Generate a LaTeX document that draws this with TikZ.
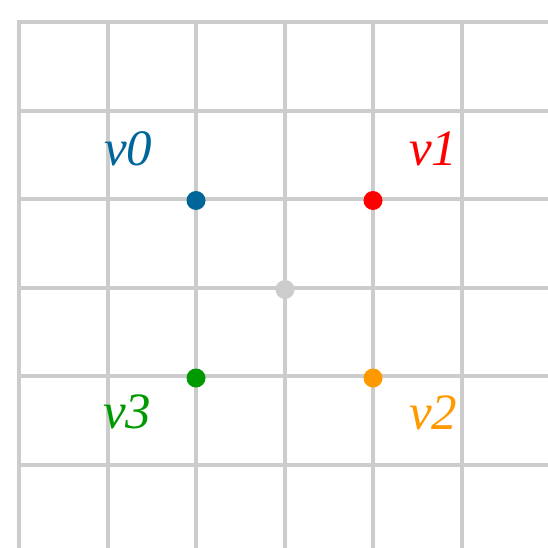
\documentclass[tikz,border=0pt]{standalone}
\usepackage{fontspec}
\setmainfont{Liberation Serif}
\definecolor{gridgray}{HTML}{CCCCCC}
\definecolor{vblue}{HTML}{006699}
\definecolor{vred}{HTML}{FF0000}
\definecolor{vorange}{HTML}{FF9900}
\definecolor{vgreen}{HTML}{009900}
\begin{document}
\begin{tikzpicture}[x=1pt,y=-1pt,
  gridline/.style={draw=gridgray,line width=4pt},
  dot/.style={circle,inner sep=0pt,minimum size=19pt},
  vlabel/.style={anchor=base west,inner sep=0pt,font=\fontsize{51}{51}\selectfont\itshape}]
\useasboundingbox (0,0) rectangle (548,548);
\begin{scope}
\clip (0,0) rectangle (548,548);
\foreach \i in {0,...,6} {
  \draw[gridline] ({19+88.6*\i},20) -- ({19+88.6*\i},560);
  \draw[gridline] (17,{22+88.6*\i}) -- (560,{22+88.6*\i});
}
\end{scope}
\node[dot,fill=vblue] (p0) at (196,200.5) {};
\node[dot,fill=vred] (p1) at (373,200.5) {};
\node[dot,fill=vorange] (p2) at (373,378) {};
\node[dot,fill=vgreen] (p3) at (196,378) {};
\node[dot,fill=gridgray] (pc) at (285,289.5) {};
\node[vlabel,text=vblue] (l0) at (104,166) {v0};
\node[vlabel,text=vred] (l1) at (409,165) {v1};
\node[vlabel,text=vorange] (l2) at (409,429) {v2};
\node[vlabel,text=vgreen] (l3) at (103,428) {v3};
\end{tikzpicture}
\end{document}
